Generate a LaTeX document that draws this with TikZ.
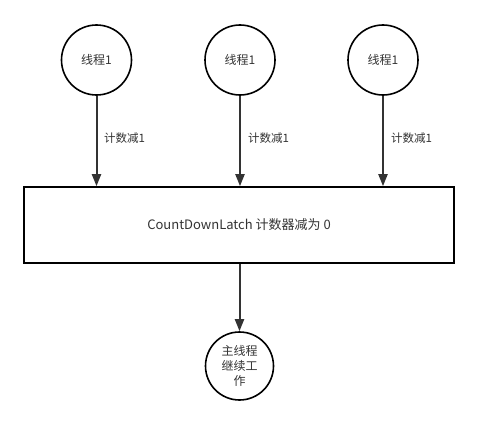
\documentclass[tikz,border=0pt]{standalone}
\usepackage{fontspec}
\setmainfont{Noto Sans CJK SC}
\usetikzlibrary{arrows.meta}
\definecolor{ln}{HTML}{333333}
\begin{document}
\begin{tikzpicture}[x=1pt,y=-1pt,
  thread/.style={circle,draw=black,line width=1.6pt,minimum size=70pt,inner sep=0pt,font=\fontsize{12}{14}\selectfont,text=ln},
  latch/.style={draw=black,line width=1.6pt,minimum width=430pt,minimum height=76pt,inner sep=0pt,font=\fontsize{13}{15}\selectfont,text=ln},
  conn/.style={draw=ln,line width=2pt,-{Triangle[length=12pt,width=9pt]}},
  lbl/.style={font=\fontsize{11.5}{13}\selectfont,text=ln,anchor=west,inner sep=0pt}]
\useasboundingbox (0,0) rectangle (499,431);
\node[thread] (t1) at (96.5,60) {线程1};
\node[thread] (t2) at (240,60) {线程1};
\node[thread] (t3) at (383,60) {线程1};
\node[latch] (box) at (239,225) {CountDownLatch 计数器减为 0};
\node[thread,minimum size=68pt,align=center,font=\fontsize{12}{15}\selectfont] (main) at (239.5,366) {主线程\\继续工\\作};
\draw[conn] (t1.south) -- (t1.south |- box.north);
\draw[conn] (t2.south) -- (t2.south |- box.north);
\draw[conn] (t3.south) -- (t3.south |- box.north);
\draw[conn] (box.south -| main.north) -- (main.north);
\node[lbl] (l1) at (104,138) {计数减1};
\node[lbl] (l2) at (248,138) {计数减1};
\node[lbl] (l3) at (391,138) {计数减1};
\end{tikzpicture}
\end{document}
